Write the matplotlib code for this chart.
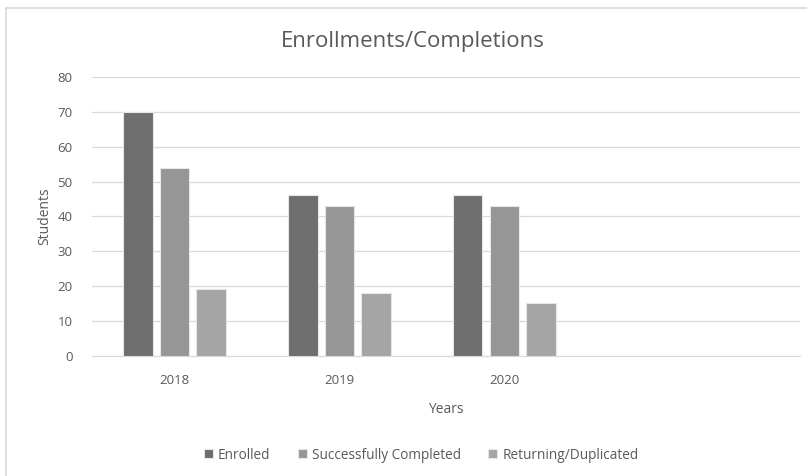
#!/usr/bin/env python3
"""Grafica de barras agrupadas: inscripciones y finalizaciones por anio."""

import matplotlib
matplotlib.use("Agg")
import matplotlib.pyplot as plt
import numpy as np
from matplotlib.lines import Line2D

years = ["2018", "2019", "2020"]
enrolled = [70, 46, 46]
completed = [54, 43, 43]
returning = [19, 18, 15]

series_names = ["Enrolled", "Successfully Completed", "Returning/Duplicated"]
series_colors = ["#6e6e6e", "#969696", "#a5a5a5"]
TEXT = "#595959"

plt.rcParams["font.family"] = ["Open Sans", "DejaVu Sans"]

fig = plt.figure(figsize=(8.07, 4.76), dpi=100)
ax = fig.add_axes([0.114, 0.253, 0.877, 0.585])

x = np.arange(len(years))
width = 0.18
step = 0.223
for i, (vals, name, color) in enumerate(zip([enrolled, completed, returning],
                                             series_names, series_colors)):
    ax.bar(x + (i - 1) * step, vals, width, color=color, label=name,
           edgecolor="#e6e6e6", linewidth=0.8, zorder=3)

ax.set_xlim(-0.5, 3.79)
ax.set_ylim(0, 80)
ax.set_yticks(range(0, 81, 10))
ax.set_xticks(x)
ax.set_xticklabels(years)
ax.grid(axis="y", color="#d9d9d9", linewidth=0.9, zorder=0)
ax.tick_params(axis="both", length=0, colors=TEXT, labelsize=9.5)
ax.tick_params(axis="x", pad=13)
ax.tick_params(axis="y", pad=14)
for side in ["top", "right", "left"]:
    ax.spines[side].set_visible(False)
ax.spines["bottom"].set_color("#d9d9d9")

ax.set_xlabel("Years", color=TEXT, fontsize=10, labelpad=11)
ax.set_ylabel("Students", color=TEXT, fontsize=10, labelpad=4)
fig.text(0.512, 0.912, "Enrollments/Completions", ha="center", va="center",
         color=TEXT, fontsize=16)

fig.legend(loc="center", bbox_to_anchor=(0.522, 0.044), ncol=3, frameon=False,
           fontsize=9.8, labelcolor=TEXT, handlelength=0.65, handleheight=0.65,
           handletextpad=0.4, columnspacing=2.0)

# borde del grafico (solo izquierda y arriba visibles)
fig.add_artist(Line2D([0.008, 0.008], [0.0, 0.983], transform=fig.transFigure,
                      color="#d9d9d9", linewidth=1.2))
fig.add_artist(Line2D([0.008, 1.0], [0.983, 0.983], transform=fig.transFigure,
                      color="#d9d9d9", linewidth=1.2))

fig.savefig("out.png", dpi=100, facecolor="white")
